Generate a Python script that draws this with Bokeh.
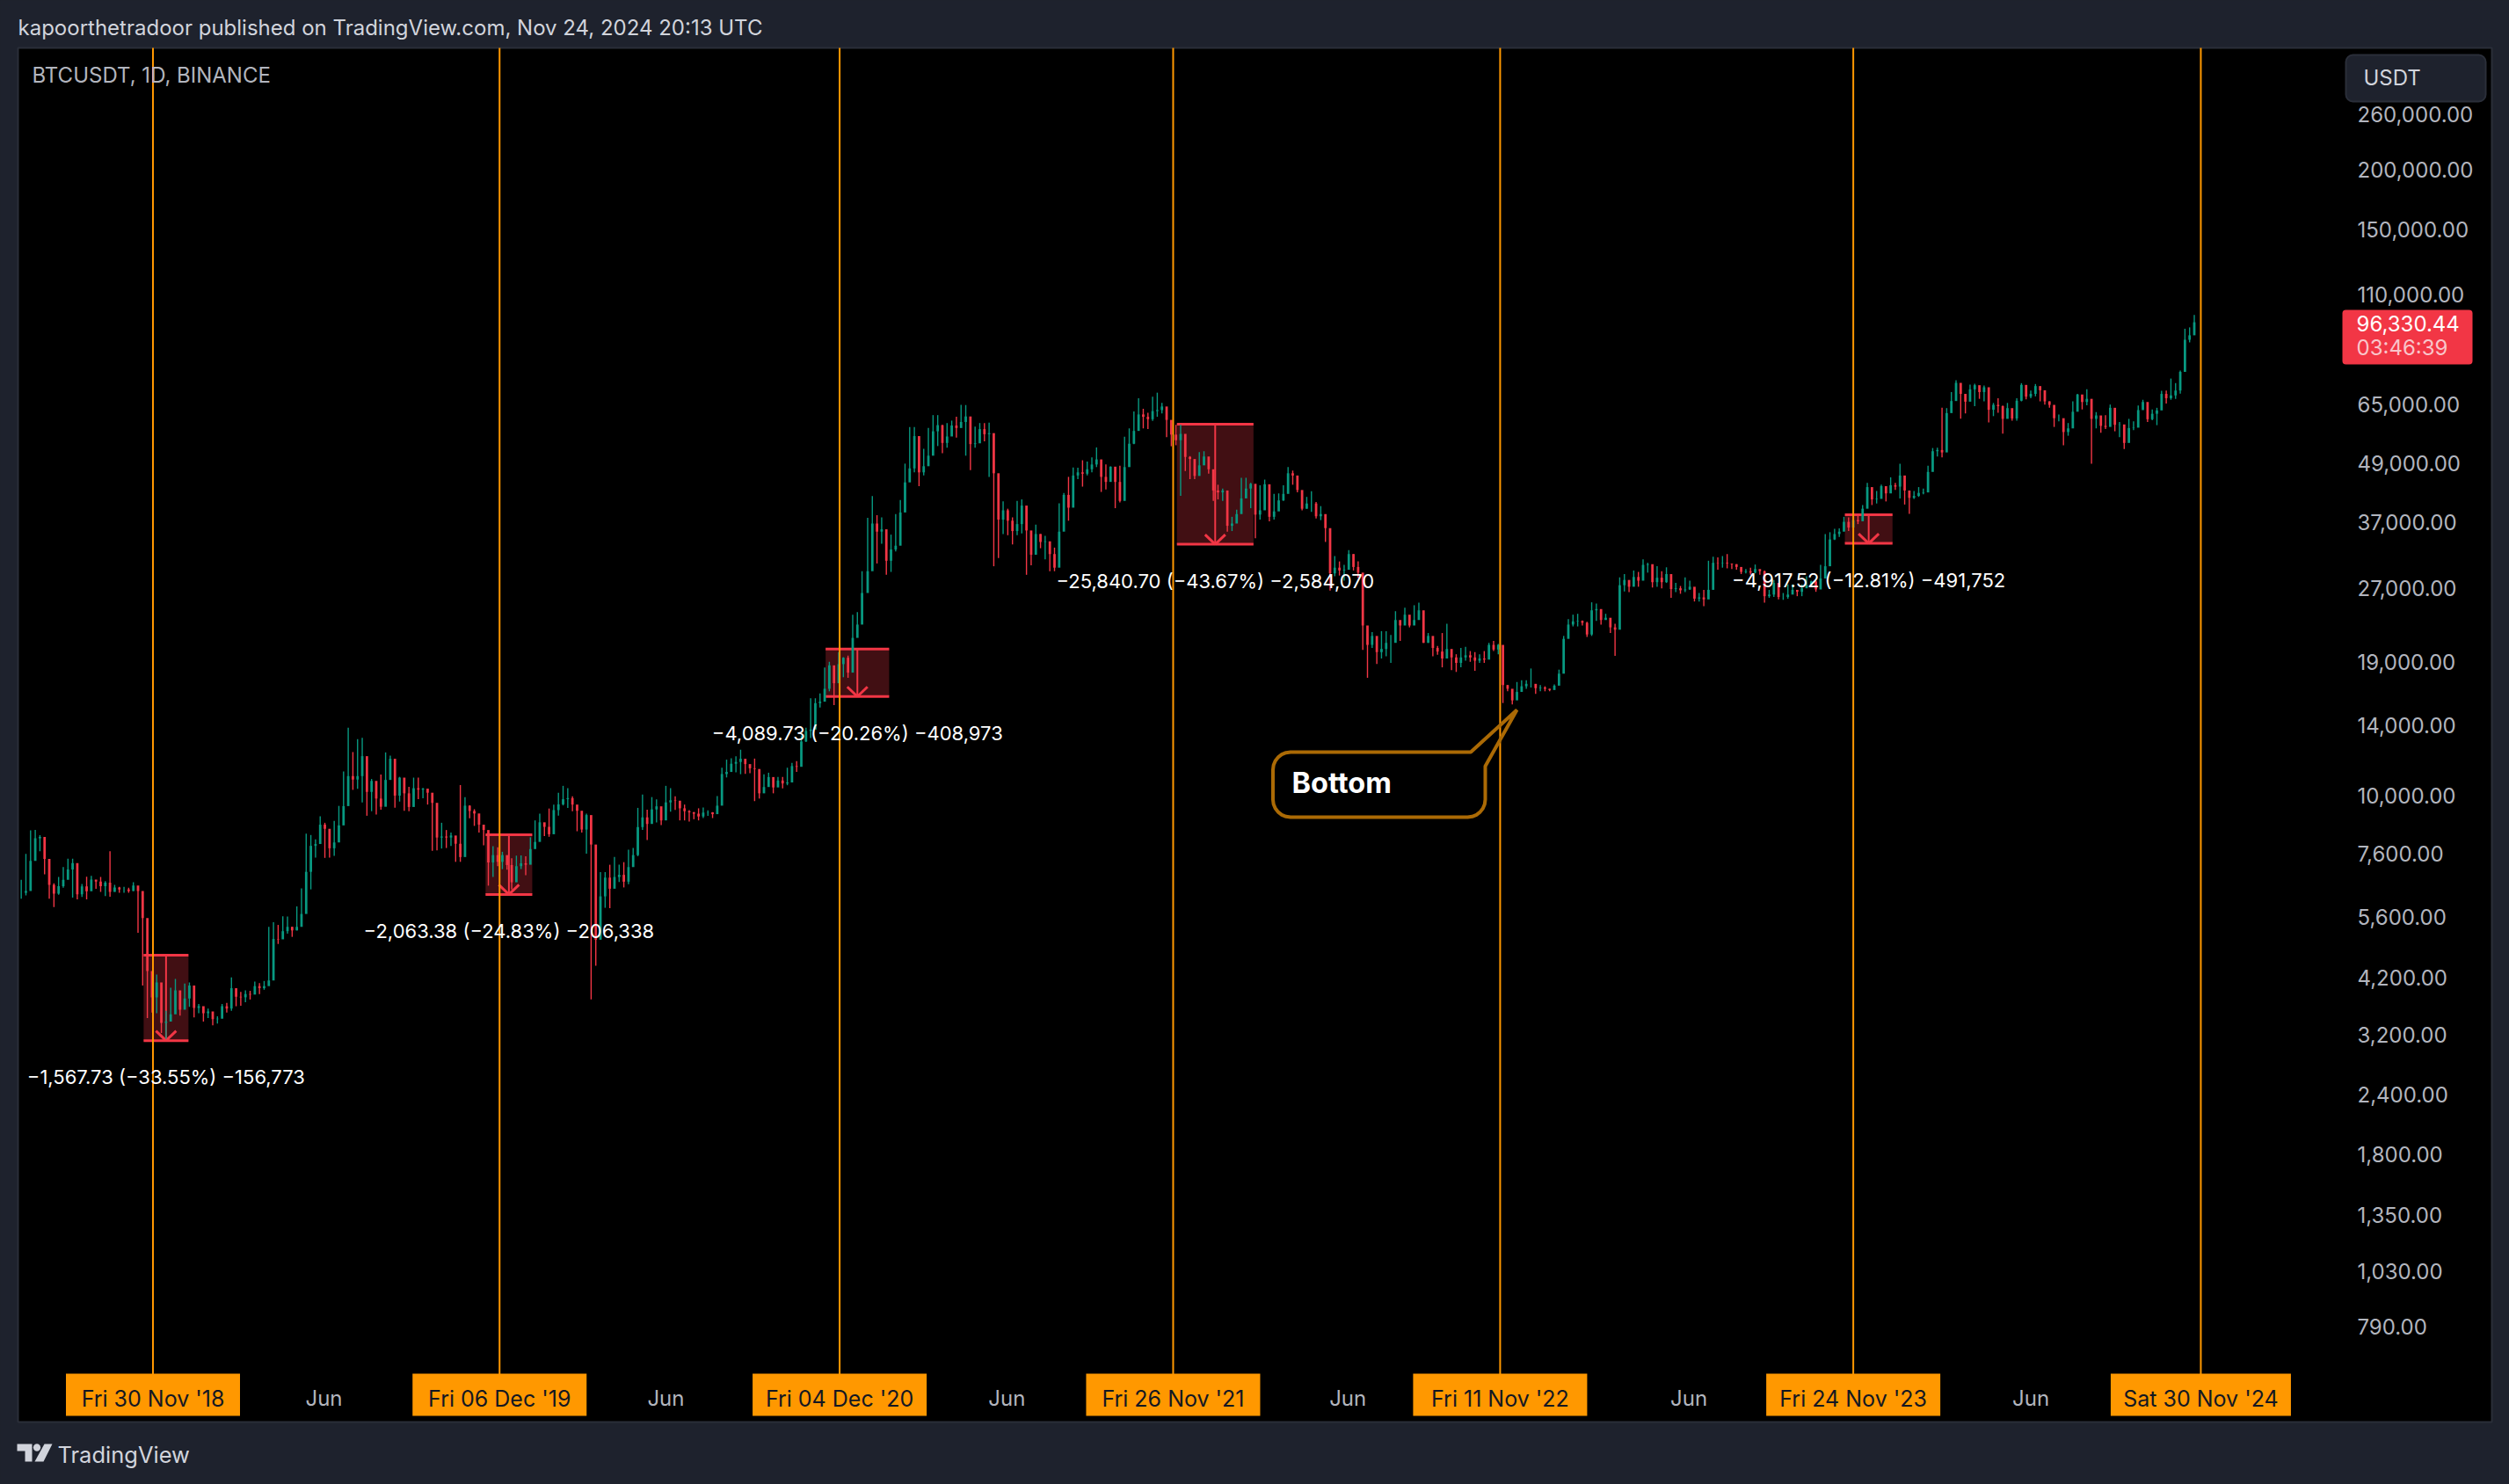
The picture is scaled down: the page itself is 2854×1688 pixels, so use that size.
import math
import numpy as np
import pandas as pd
from bokeh.core.properties import value
from bokeh.embed import file_html
from bokeh.models import (BoxAnnotation, ColumnDataSource, FixedTicker, GlobalInlineStyleSheet, Label,
                          LinearAxis, LogAxis, NumeralTickFormatter, PolyAnnotation, Range1d)
from bokeh.plotting import figure
from bokeh.resources import INLINE

# ---------- data ----------
start_2018 = "2018-07-10"
close_2018 = [6300,6350,7330,8170,8220,7400,6540,6270,6500,6700,7040,7260,6250,6490,6340,6710,6640,6500,6610,6320,6460,6400,6400,6350,6520,6350,5580,4330,3820,4100,3380,3400,3520,3950,3600]
high_2018 = [6700,7580,8490,8500,8290,7500,6640,6590,6790,7120,7410,7410,6560,6570,6800,6830,6680,6790,6660,7680,6540,6480,6480,6450,6620,6400,5640,4450,4300,4260,3570,3580,4000,4170,3850]
low_2018 = [6120,6220,7220,7950,7680,6880,6120,5880,6240,6450,6900,6150,6100,6170,6100,6420,6420,6320,6200,6180,6330,6300,6300,6300,6350,5200,4040,3460,3550,3540,3220,3130,3400,3650,3500]

start_2019 = "2019-01-01"
close_2019 = [3800,4040,3630,3660,3540,3570,3440, 3450,3660,3620,3990,3830, 3820,3880,3870,4030,3990,4030, 4140,5050,5040,5240,5350,5260,
              5350,5690,6960,7880,7950,8720,8550, 7790,8010,8690,9530,11000,10820, 11000,12100,10200,10750,9880,9500, 10800,11950,10020,10920,10130,9490,
              10380,10310,10360,10160,9680,8200, 8240,8200,8280,7960,7470,9550, 9310,9200,8720,8500,7280,7540, 7300,7540,7190,6620,7150,7250]
high_2019 = [4080,4100,3700,3700,3600,3620,3520, 3490,3700,3720,4200,3950, 3920,3950,3940,4120,4090,4130, 5350,5470,5400,5630,5620,5350,
             5900,6430,8350,8300,8130,9080,8800, 8300,8880,9540,11250,13870,12340, 13130,13210,11100,10850,10190,11080, 12320,12130,10950,10960,10450,10450,
             10920,10920,10390,10280,9730,8340, 8800,8500,8400,8130,10540,9950, 9570,9390,8880,8500,7340,7870, 7830,7660,7430,7430,7520,7530]
low_2019 = [3640,3650,3470,3540,3400,3460,3340, 3370,3590,3550,3580,3660, 3670,3730,3780,3890,3880,3960, 4080,4920,4930,5070,5180,5100,
            5260,5380,6150,6400,7450,8030,7440, 7450,7510,8610,8950,9600,10300, 10350,9700,9100,9300,9150,9370, 9820,11000,9460,9740,9320,9300,
            10000,9850,9890,9600,7700,7710, 7780,7800,7880,7300,7300,8970, 8990,8670,8400,7900,6515,6790, 7150,7050,7030,6400,7050,7050]

start_2020 = "2020-01-01"
close_2020 = [7200,7760,8030,8820,8630,8330,9350, 9610,9850,9900,9600,9320, 8520,9130,7930,5030,6190,6770,6420, 6790,6860,6640,7120,7540,8620,
              9030,8750,9380,9520,8900,9700, 9800,9780,9430,9300,9250,9190, 9070,9240,9250,9170,9550,11110, 11220,11670,11770,11950,11650,11420,
              11380,10130,10440,10950,10420,10770, 10620,10670,11540,11500,12980,13650, 13740,15590,15700,16700,18680,17150, 18790,19370,18040,21300,22700,26400]
high_2020 = [7500,8210,8900,9190,8780,9420,9600, 10160,10500,10380,9990,9450, 9190,9190,8000,6900,6950,6950,7200, 7470,7200,7290,7740,7800,9450,
             10070,9370,9950,9840,9300,10500, 10380,9990,9630,9600,9350,9270, 9430,9470,9340,9260,10000,11450, 11900,11980,12090,12480,11800,11600,
             11960,10440,11100,11180,10780,10950, 10950,11450,11720,11820,13350,13860, 15960,15960,16340,18480,19000,18180, 19900,19420,19570,23800,24100,29300]
low_2020 = [6850,7670,7960,8520,8260,8230,9100, 9110,9560,9450,9300,8450, 8400,7590,3782,4440,5700,5860,5850, 6530,6630,6460,6560,7420,7500,
            8500,8100,8850,8810,8700,9330, 9280,9360,8900,8900,8850,8950, 8900,9000,9100,9000,9450,10600, 10930,11500,11200,11100,11120,11150,
            9760,9880,10200,10700,10130,10640, 10370,10530,11180,11220,12700,12950, 13200,15180,15270,16200,16500,15450, 17600,17650,17600,19300,21800,25800]

start_2021 = "2021-01-01"
close_2021 = [29300,36800,35400,35800,30800,32500,33100, 38800,44800,47900,55900,47000, 48400,50900,57200,58900,54100,55800, 58800,58100,59800,61400,53800,54000,
              57800,56400,56700,46800,37500,39200,37300, 35500,36700,40100,35600,31700,35000, 33700,33800,31800,29800,35400,42200, 39700,46300,47000,46700,47700,48800,
              50000,46000,44900,48300,44900,41000, 48200,53900,57300,62000,61300,60600, 63000,63300,64400,60400,56300,54800, 56500,50600,50100,46200,48600,50700]
high_2021 = [37800,41950,38300,37900,34900,34900,38500, 41200,49000,58350,58350,52000, 52600,58150,61800,61800,59000,59500, 60200,61300,64900,64850,57000,58500,
             59500,59500,59600,49800,42500,40900,39500, 37900,41000,41300,36500,35500,36600, 35000,34700,32400,32800,40550,42600, 46000,48100,48050,49800,49500,50500,
             52950,47400,48800,48350,45200,48500, 55750,58000,62900,67000,63700,62500, 67500,68800,65500,61000,58000,59000, 59000,51900,50800,49300,51800,52000]
low_2021 = [28900,35000,30400,33400,28800,29200,32200, 36600,43700,46300,47000,44000, 46300,48900,54500,53300,51500,52900, 56800,55500,59000,50900,47500,52900,
            56000,54500,46000,30000,31200,35000,34800, 33300,34800,35100,28800,30150,32700, 32700,31000,29300,29300,33800,38000, 37300,43800,45500,43900,46300,47000,
            48200,42800,43300,46700,39600,40700, 47200,53000,53800,59400,58000,57800, 60100,61300,62300,55600,53250,53500, 42000,47300,45500,45500,47700,49500]

start_2022 = "2022-01-01"
close_2022 = [47700,43100,42700,43100,36400,36800,38500, 41500,43500,44500,38400,39200, 44400,38000,39000,41100,42400,46800, 46300,43200,39500,40500,40500,38100,
              38500,36000,29000,29800,29400,29500,31800, 29900,29100,22600,20600,21500,19900, 20200,20800,20800,23200,22600,23800, 22600,23200,24300,20800,21500,20300,
              19950,19300,20200,19400,18900,19400, 19600,19400,19100,19300,19200,20600, 20150,20600,17000,16700,15800,16450, 16900,17100,17100,16750,16800,16700]
high_2022 = [47900,43800,44300,43500,39800,38000,39300, 45800,45800,44700,40500,44200, 45400,42600,42400,42500,44200,48200, 47400,45500,41500,41800,42950,40800,
             40000,36700,32600,31500,30700,30200,32400, 31800,30700,22900,21700,21900,20900, 22000,22000,21600,24200,23000,24600, 23600,24900,25200,23000,21800,20600,
             20500,21800,22800,20000,19700,20300, 20400,20000,19900,19700,20000,20800, 21000,20700,18200,17000,16600,17250, 17400,17400,18400,17000,17000,16900]
low_2022 = [46700,41000,41300,41000,35400,35500,37400, 41000,43000,39600,34300,37500, 40900,37200,37500,40500,41000,46600, 44300,42700,39200,39500,38900,37700,
            37400,33700,26700,28600,28700,28000,31000, 29400,28400,20100,17600,20300,18800, 19300,19500,18900,21500,21000,23000, 22400,22700,23500,20800,20800,19500,
            19650,18500,19500,18250,18100,18500, 19100,19000,18200,18900,18900,20000, 20000,19700,15600,16500,15500,16000, 16700,16700,16800,16300,16500,16500]

start_2023 = "2023-01-01"
close_2023 = [16600,16950,17950,21200,22700,23050,23100, 22900,21650,24300,24450,23200, 23450,22400,22150,27400,28100,27200, 28500,28000,30200,30300,27800,28400,
              27800,28900,26900,27000,26750,26850,27200, 25700,25850,25600,26800,30500,30450, 30500,30400,30300,29900,29200,29300, 29100,29600,29300,26000,26200,27700,
              25900,25900,26200,26800,26550,27000, 27400,27900,26850,28300,30000,34100, 35000,35400,37100,36100,37400,37200, 39500,43800,41300,41400,44000,42500]
high_2023 = [16700,17050,18300,21500,23300,23800,23900, 23150,23000,25250,25100,23600, 23900,22500,22800,28450,28900,27500, 29400,29200,31000,30500,28350,30000,
             29300,29850,27400,27700,27300,28450,28000, 27000,26400,26800,30800,31400,31300, 31500,31800,30400,30300,29700,29600, 29800,30250,29500,29400,26800,28100,
             26000,26400,27500,27500,26700,27500, 28600,28000,28000,30200,35000,35300, 35900,35950,38000,37900,38400,38400, 40200,44700,43500,43000,44300,43800]
low_2023 = [16500,16750,17300,20400,22300,22500,22500, 22600,21400,21500,23100,22700, 23300,21800,19550,24900,26600,26500, 27600,27200,29900,29100,27100,27200,
            27000,27700,25800,26500,26300,26500,26800, 25350,25350,24800,26500,29500,29500, 29800,29700,29600,29500,28900,29000, 28800,29000,28800,25200,25800,25900,
            25600,25550,25700,26400,26000,26000, 27200,27300,26550,27900,29700,33400, 34000,34500,35500,35500,36700,36700, 37500,42800,40200,40500,43400,40900]

start_2024 = "2024-01-01"
close_2024 = [44200,43900,46300,43100,41600,42000,42600, 42700,47100,52000,52300,51700, 62400,66100,72100,68400,65900,69900,71300, 69000,70600,63400,64900,64500,60700,
              63900,60800,66200,71400,67500,68400, 71000,69600,66000,64900,60900,60900, 57000,58000,62800,68200,65800,66800, 60700,61700,58700,58400,64000,59000,
              59100,54100,58100,58200,63300,65800, 60600,62200,63200,68400,67000,67900, 69500,76000,88600,90500,96330]
high_2024 = [45900,44700,48970,43600,42000,43000,43800, 43500,48500,52800,52900,64000, 63900,69000,73000,68500,68200,71500,71800, 69500,71200,66000,65500,67000,64700,
             65500,63400,67000,72000,69200,69500, 71700,70000,67300,66000,62500,62000, 58500,59500,66000,68400,67400,69900, 62000,62700,61500,61800,65000,60000,
             59800,58000,60700,60000,64700,66500, 62400,63500,64000,69400,69500,73600, 72000,76500,93400,94000,99800]
low_2024 = [42600,43200,41500,40300,38550,41400,41800, 42300,46900,50800,50700,50500, 60800,65400,68600,60750,62300,68400,64500, 66800,66000,59700,61500,62500,56550,
            62500,60200,60200,66000,66600,67000, 67600,66000,65000,64000,58400,60000, 53500,56000,61000,64800,63500,64800, 49000,58000,56800,57800,58800,57200,
            55600,52550,57500,57500,62500,64000, 59800,60300,58900,66500,65300,66500, 66800,68500,76000,87500,91000]

year_blocks = [(start_2018, close_2018, high_2018, low_2018), (start_2019, close_2019, high_2019, low_2019),
               (start_2020, close_2020, high_2020, low_2020), (start_2021, close_2021, high_2021, low_2021),
               (start_2022, close_2022, high_2022, low_2022), (start_2023, close_2023, high_2023, low_2023),
               (start_2024, close_2024, high_2024, low_2024)]

price_ticks = [260000, 200000, 150000, 110000, 65000, 49000, 37000, 27000, 19000, 14000, 10000,
               7600, 5600, 4200, 3200, 2400, 1800, 1350, 1030, 790]
jun_ticks = ["2019-06-01", "2020-06-01", "2021-06-01", "2022-06-01", "2023-06-01", "2024-06-01"]
cycle_dates = ["2018-11-30", "2019-12-06", "2020-12-04", "2021-11-26", "2022-11-11", "2023-11-24", "2024-11-30"]
cycle_labels = ["Fri 30 Nov '18", "Fri 06 Dec '19", "Fri 04 Dec '20", "Fri 26 Nov '21", "Fri 11 Nov '22", "Fri 24 Nov '23", "Sat 30 Nov '24"]

drop_start = ["2018-11-20", "2019-11-21", "2020-11-19", "2021-11-30", "2023-11-15"]
drop_end = ["2019-01-07", "2020-01-10", "2021-01-26", "2022-02-20", "2024-01-05"]
drop_top = [4672.8, 8310, 20186, 59173, 38388]
drop_bottom = [3105, 6246.6, 16096, 33332, 33470]
drop_labels = ["\u22121,567.73 (\u221233.55%) \u2212156,773", "\u22122,063.38 (\u221224.83%) \u2212206,338",
               "\u22124,089.73 (\u221220.26%) \u2212408,973", "\u221225,840.70 (\u221243.67%) \u22122,584,070",
               "\u22124,917.52 (\u221212.81%) \u2212491,752"]
drop_label_gap = [41, 42, 42, 42, 42]
last_price = "96,330.44"
countdown = "03:46:39"

# ---------- layout ----------
W, H = 2854, 1688
DAY = 86400000.0
PX_PER_DAY = 1.0627
PX_PER_LOG = 237.9
def ms(d):
    return pd.Timestamp(d).value / 1e6
NOV30 = ms("2018-11-30")
def ms_at(px):
    return NOV30 + (px - 173.5) / PX_PER_DAY * DAY
def price_at(py):
    return 110000.0 * math.exp(-(py - 334.5) / PX_PER_LOG)
def sx(px):
    return px
def sy(py):
    return H - py

BG, PANE, FRAME = "#1e222d", "#000000", "#2a2e39"
UP, DOWN, ORANGE = "#089981", "#f23645", "#ff9800"
FONT = "Inter"

p = figure(width=W, height=H, output_backend="svg", toolbar_location=None,
           x_range=Range1d(ms_at(0), ms_at(W)), y_range=Range1d(price_at(H), price_at(0)),
           y_axis_type="log", x_axis_location=None, y_axis_location=None,
           min_border=0, min_border_left=0, min_border_right=0, min_border_top=0, min_border_bottom=0)
p.stylesheets = [GlobalInlineStyleSheet(css="html,body{background:#1e222d;margin:0;overflow:hidden}")]
p.background_fill_color = BG
p.border_fill_color = BG
p.outline_line_color = None
p.grid.visible = False

p.add_layout(BoxAnnotation(left=sx(20), right=sx(2834), top=sy(54), bottom=sy(1617),
                           left_units="screen", right_units="screen", top_units="screen", bottom_units="screen",
                           fill_color=PANE, fill_alpha=1, line_color=FRAME, line_alpha=1, line_width=2, level="underlay"))

# loss boxes
ds, de = [ms(d) for d in drop_start], [ms(d) for d in drop_end]
mid = [(a + b) / 2 for a, b in zip(ds, de)]
p.quad(left=ds, right=de, top=drop_top, bottom=drop_bottom, fill_color=DOWN, fill_alpha=0.27, line_color=None)
p.segment(x0=ds, x1=de, y0=drop_top, y1=drop_top, line_color=DOWN, line_width=3)
p.segment(x0=ds, x1=de, y0=drop_bottom, y1=drop_bottom, line_color=DOWN, line_width=3)
p.segment(x0=mid, x1=mid, y0=drop_top, y1=drop_bottom, line_color=DOWN, line_width=2)
HEAD_DX = 11.5 / PX_PER_DAY * DAY
HEAD_DY = math.exp(11 / PX_PER_LOG)
wing_y = [b * HEAD_DY for b in drop_bottom]
p.segment(x0=[m - HEAD_DX for m in mid], x1=mid, y0=wing_y, y1=drop_bottom, line_color=DOWN, line_width=3)
p.segment(x0=[m + HEAD_DX for m in mid], x1=mid, y0=wing_y, y1=drop_bottom, line_color=DOWN, line_width=3)

# candles
xs, c, hi, lo, op = [], [], [], [], []
prev = None
for st, cl, hh, ll in year_blocks:
    t0 = ms(st)
    for i, (a, b, d) in enumerate(zip(cl, hh, ll)):
        xs.append(t0 + (i * 5 + 2) * DAY)
        op.append(prev if prev is not None else a)
        c.append(a); hi.append(b); lo.append(d)
        prev = a
colors = [UP if a >= b else DOWN for a, b in zip(c, op)]
src = ColumnDataSource(dict(x=xs, o=op, c=c, h=hi, l=lo, color=colors))
p.segment(x0="x", x1="x", y0="l", y1="h", line_color="color", line_width=1.4, source=src)
p.vbar(x="x", width=2.6 * DAY, bottom="o", top="c", fill_color="color", line_color=None, source=src)

# cycle lines and date tags
cyc = [ms(d) for d in cycle_dates]
p.segment(x0=cyc, x1=cyc, y0=[price_at(1586)] * 7, y1=[price_at(54)] * 7, line_color=ORANGE, line_width=2)
p.rect(x=cyc, y=[price_at(1586)] * 7, width=[198, 198, 198, 198, 198, 198, 205], width_units="screen",
       height=48, height_units="screen", fill_color=ORANGE, line_color=None)
p.text(x=cyc, y=[price_at(1590)] * 7, text=cycle_labels, text_color="#131722", text_font=value(FONT), text_font_size="25px",
       text_align="center", text_baseline="middle")

# axes placed inside the dark pane, as on the original
yax = LogAxis(ticker=FixedTicker(ticks=price_ticks), formatter=NumeralTickFormatter(format="0,0.00"),
              fixed_location=ms_at(2681), axis_line_color=None, major_tick_line_color=None, minor_tick_line_color=None,
              major_label_text_color="#b2b5be", major_label_text_font=FONT, major_label_text_font_size="24px",
              major_label_standoff=0, major_tick_in=0, major_tick_out=0)
p.add_layout(yax, "right")
jun = [ms(d) for d in jun_ticks]
xax = LinearAxis(ticker=FixedTicker(ticks=jun), major_label_overrides={t: "Jun" for t in jun},
                 fixed_location=price_at(1575), axis_line_color=None, major_tick_line_color=None, minor_tick_line_color=None,
                 major_label_text_color="#b2b5be", major_label_text_font=FONT, major_label_text_font_size="24px",
                 major_label_standoff=0, major_tick_in=0, major_tick_out=0)
p.add_layout(xax, "below")

# measure labels
p.text(x=mid, y=drop_bottom, text=drop_labels, y_offset=drop_label_gap, text_color="#ffffff", text_font=value(FONT),
       text_font_size="22px", text_align="center", text_baseline="middle")

# callout
def rounded(x0, y0, x1, y1, r):
    pts = []
    for cx, cy, a0 in ((x0 + r, y0 + r, 180), (x1 - r, y0 + r, 270), (x1 - r, y1 - r, 0), (x0 + r, y1 - r, 90)):
        pts.append([(cx + r * math.cos(math.radians(a0 + k * 15)), cy + r * math.sin(math.radians(a0 + k * 15))) for k in range(7)])
    return pts
tl, tr, br, bl = rounded(1447.5, 855, 1689, 929, 20)
outline = tl + [(1672.5, 855), (1725, 807), (1689, 871)] + br + bl
p.add_layout(PolyAnnotation(xs=[sx(a) for a, _ in outline], ys=[sy(b) for _, b in outline],
                            xs_units="screen", ys_units="screen", fill_alpha=0, line_color="#ab6a05", line_alpha=1, line_width=4))

def txt(x, y, s, size, color, weight="normal"):
    p.add_layout(Label(x=sx(x), y=sy(y), x_units="screen", y_units="screen", text=s, text_color=color, text_font=FONT,
                       text_font_size=f"{size}px", text_font_style=weight, text_baseline="middle", text_align="left"))
txt(1469, 890, "Bottom", 32.5, "#ffffff", "bold")
txt(20, 31, "kapoorthetradoor published on TradingView.com, Nov 24, 2024 20:13 UTC", 24, "#d1d4dc")
txt(36, 85, "BTCUSDT, 1D, BINANCE", 24, "#b2b5be")

# USDT box
p.add_layout(BoxAnnotation(left=sx(2668), right=sx(2827), top=sy(62), bottom=sy(115), left_units="screen", right_units="screen",
                           top_units="screen", bottom_units="screen", fill_color=BG, fill_alpha=1, line_color=FRAME, line_alpha=1, line_width=2,
                           border_radius=8))
txt(2688, 88, "USDT", 24, "#d1d4dc")

# last price tag
p.add_layout(BoxAnnotation(left=sx(2664), right=sx(2812), top=sy(352), bottom=sy(414), left_units="screen", right_units="screen",
                           top_units="screen", bottom_units="screen", fill_color=DOWN, fill_alpha=1, line_color=None,
                           border_radius=4))
txt(2680, 367, last_price, 24, "#ffffff")
txt(2680, 395, countdown, 24, "#f9c5ca")

# footer logo and name
logo_t = [(19, 1642), (36, 1642), (36, 1662), (28, 1662), (28, 1650), (19, 1650)]
logo_slash = [(50, 1642), (59, 1642), (49, 1662), (39, 1662)]
logo_dot = [(41.5 + 4.2 * math.cos(math.radians(a)), 1646 + 4.2 * math.sin(math.radians(a))) for a in range(0, 360, 30)]
for poly in (logo_t, logo_slash, logo_dot):
    p.add_layout(PolyAnnotation(xs=[sx(a) for a, _ in poly], ys=[sy(b) for _, b in poly], xs_units="screen", ys_units="screen",
                                fill_color="#d1d4dc", fill_alpha=1, line_color=None))
txt(65, 1654, "TradingView", 25.5, "#d1d4dc")

open("out.html", "w").write(file_html(p, INLINE))
